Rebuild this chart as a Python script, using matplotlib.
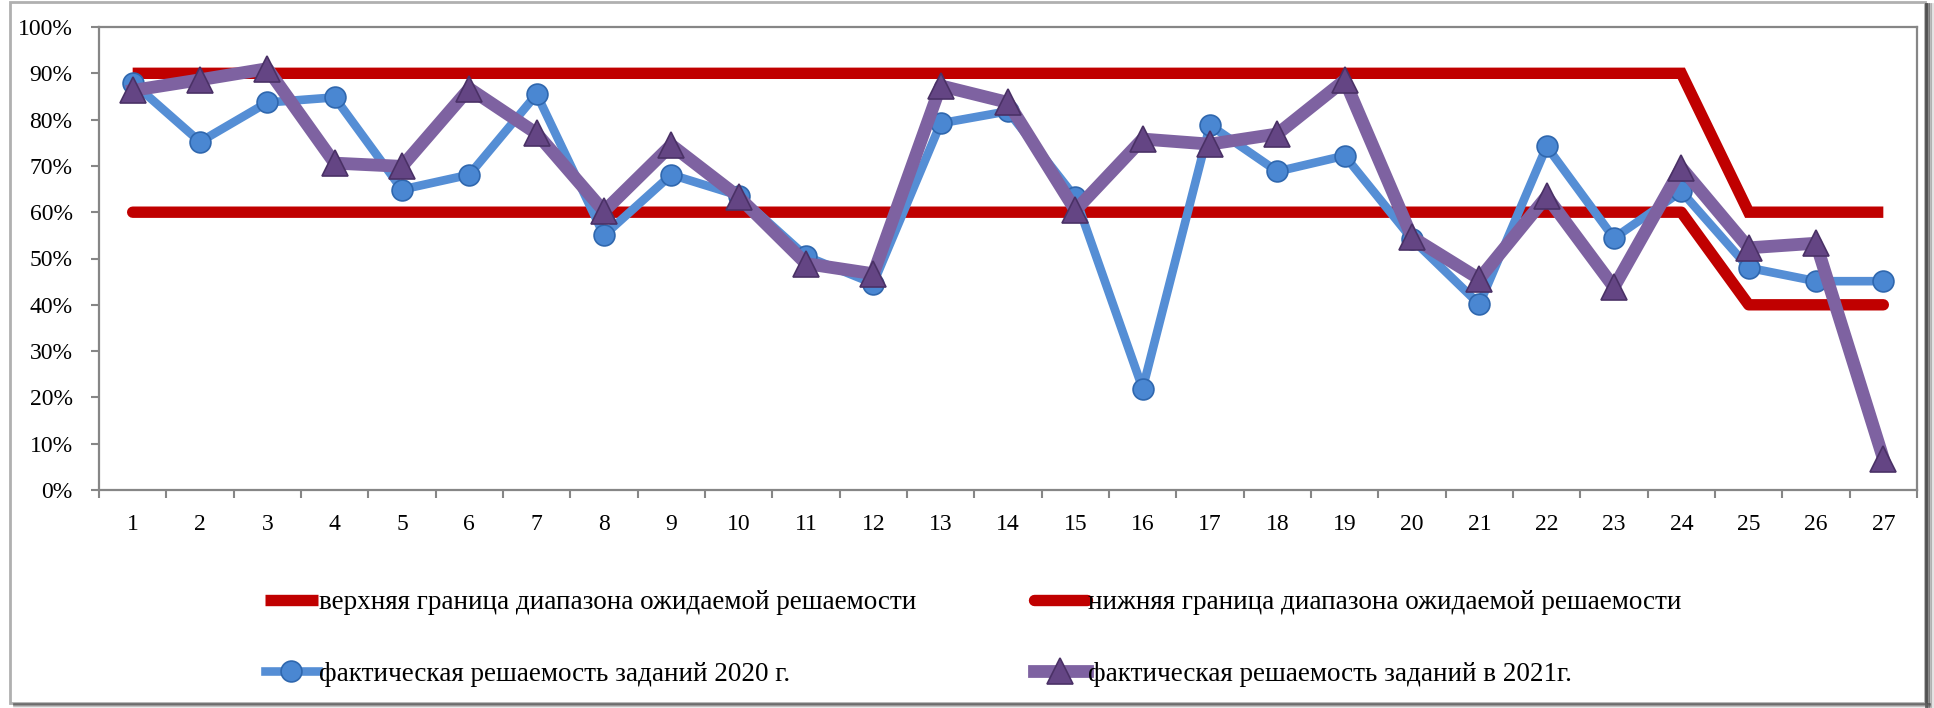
import matplotlib
matplotlib.use('Agg')
import matplotlib.pyplot as plt
from matplotlib.lines import Line2D
from matplotlib.patches import Rectangle
from matplotlib.ticker import FixedLocator, PercentFormatter

plt.rcParams['font.family'] = ['Liberation Serif', 'DejaVu Serif']

# ── data ────────────────────────────────────────────────────────────
tasks = list(range(1, 28))
upper = [90] * 24 + [60] * 3
lower = [60] * 24 + [40] * 3
solved_2020 = [88, 75.2, 83.7, 84.8, 64.9, 68.1, 85.5, 55.0, 68.1, 63.6,
               50.5, 44.6, 79.2, 81.8, 63.2, 21.9, 78.8, 68.8, 72.2, 54.2,
               40.1, 74.2, 54.4, 64.5, 48.0, 45.1, 45.1]
solved_2021 = [86.3, 88.6, 91.0, 70.6, 69.9, 86.7, 77.0, 60.2, 74.5, 63.3,
               48.9, 46.7, 87.3, 83.7, 60.4, 75.8, 74.7, 76.9, 88.5, 54.6,
               45.6, 63.4, 43.8, 69.6, 52.3, 53.3, 6.8]

lbl_upper = 'верхняя граница диапазона ожидаемой решаемости'
lbl_lower = 'нижняя граница диапазона ожидаемой решаемости'
lbl_2020 = 'фактическая решаемость заданий 2020 г.'
lbl_2021 = 'фактическая решаемость заданий в 2021г.'

C_RED, C_BLUE, C_PURPLE = '#C00000', '#558ED5', '#7E62A1'
C_AXIS = '#868686'
FS = 17
FS_LEG = 19.5

W, H = 1934, 708
fig = plt.figure(figsize=(W / 100, H / 100), dpi=100)
ax = fig.add_axes([99 / W, 1 - 490 / H, (1917 - 99) / W, (490 - 27) / H])

l_up, = ax.plot(tasks, upper, color=C_RED, lw=8.2, solid_capstyle='butt',
                solid_joinstyle='miter', zorder=2)
l_lo, = ax.plot(tasks, lower, color=C_RED, lw=8.2, solid_capstyle='round',
                solid_joinstyle='round', zorder=2)
l_20, = ax.plot(tasks, solved_2020, color=C_BLUE, lw=6.2, marker='o', ms=15,
                mfc='#4A87D2', mec='#2F67AE', mew=1.2, solid_joinstyle='round', zorder=3)
l_21, = ax.plot(tasks, solved_2021, color=C_PURPLE, lw=9.2, marker='^', ms=19,
                mfc='#644584', mec='#4A3166', mew=1.2, solid_joinstyle='round', zorder=4)

ax.set_xlim(0.5, 27.5)
ax.set_ylim(0, 100)
ax.yaxis.set_major_locator(FixedLocator(range(0, 101, 10)))
ax.yaxis.set_major_formatter(PercentFormatter(decimals=0))
ax.set_xticks(tasks)
ax.set_xticklabels([str(t) for t in tasks])
ax.set_xticks([t + 0.5 for t in range(0, 28)], minor=True)
ax.tick_params(axis='x', which='major', length=0, pad=17, labelsize=FS)
ax.tick_params(axis='x', which='minor', length=6, width=1.5, color=C_AXIS, direction='out')
ax.tick_params(axis='y', length=6, width=1.5, color=C_AXIS, pad=13, labelsize=FS)
for s in ax.spines.values():
    s.set_color(C_AXIS)
    s.set_linewidth(1.6)

leg_kw = dict(loc='upper left', frameon=False, fontsize=FS_LEG, handlelength=1.95,
              handletextpad=0.05, labelspacing=1.72, borderpad=0, borderaxespad=0)
fig.legend([l_up, l_20], [lbl_upper, lbl_2020],
           bbox_to_anchor=(265 / W, 1 - 590 / H), **leg_kw)
fig.legend([l_lo, l_21], [lbl_lower, lbl_2021],
           bbox_to_anchor=(1034 / W, 1 - 590 / H), **leg_kw)

# chart-area frame with a soft shadow on the right and bottom
fig.add_artist(Rectangle((10 / W, 1 - 703 / H), 1915 / W, 701 / H, transform=fig.transFigure,
                         fill=False, edgecolor='#B0B0B0', lw=2))
for i, a in enumerate([0.85, 0.6, 0.35, 0.15]):
    fig.add_artist(Line2D([(1926 + i * 2) / W] * 2, [1 - 706 / H, 1 - 4 / H],
                          transform=fig.transFigure, color='#404040', alpha=a, lw=2))
    fig.add_artist(Line2D([14 / W, 1930 / W], [1 - (704 + i) / H] * 2,
                          transform=fig.transFigure, color='#606060', alpha=a, lw=1.2))

fig.savefig('out.png', dpi=100)
